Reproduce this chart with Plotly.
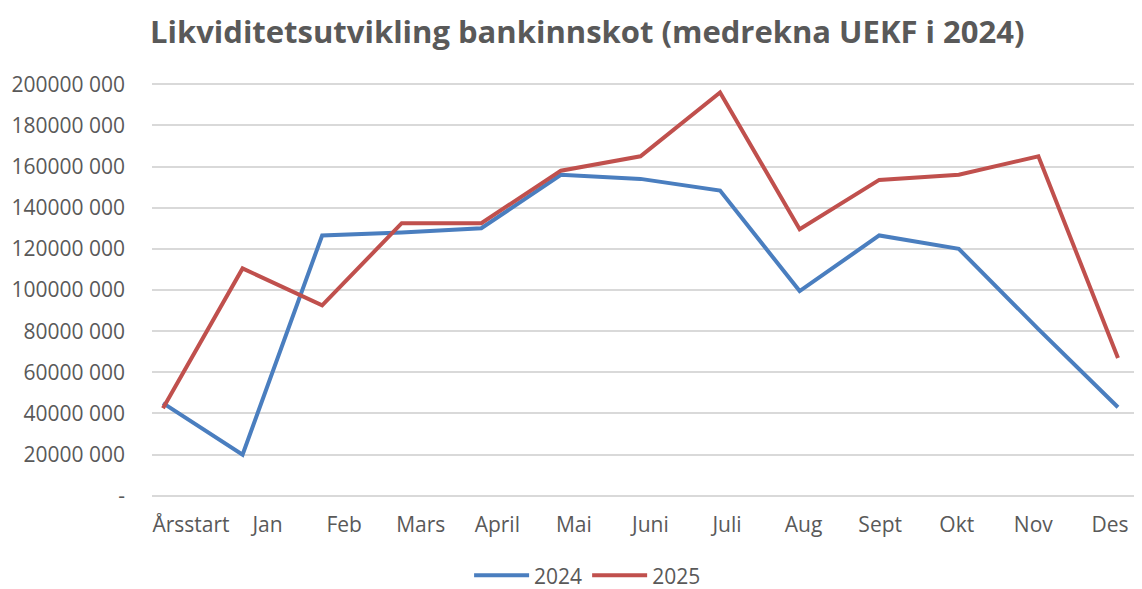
import plotly.graph_objects as go

categories = ["Årsstart", "Jan", "Feb", "Mars", "April", "Mai", "Juni", "Juli",
              "Aug", "Sept", "Okt", "Nov", "Des"]
values_2024 = [45_000_000, 20_000_000, 126_500_000, 128_000_000, 130_000_000, 156_000_000,
               154_000_000, 148_300_000, 99_500_000, 126_500_000, 120_000_000, 81_000_000, 43_000_000]
values_2025 = [42_500_000, 110_500_000, 92_500_000, 132_500_000, 132_500_000, 158_000_000,
               165_000_000, 196_000_000, 129_500_000, 153_500_000, 156_000_000, 165_000_000, 67_000_000]
tick_vals = [0, 20_000_000, 40_000_000, 60_000_000, 80_000_000, 100_000_000,
             120_000_000, 140_000_000, 160_000_000, 180_000_000, 200_000_000]
tick_text = ["-", "20000 000", "40000 000", "60000 000", "80000 000", "100000 000",
             "120000 000", "140000 000", "160000 000", "180000 000", "200000 000"]

font_family = "Open Sans, Liberation Sans, sans-serif"
idx = list(range(len(categories)))

fig = go.Figure()
fig.add_trace(go.Scatter(x=idx, y=values_2024, mode="lines",
                         name="2024", line=dict(color="#4A7EBF", width=4)))
fig.add_trace(go.Scatter(x=idx, y=values_2025, mode="lines",
                         name="2025", line=dict(color="#C0504D", width=4)))
# invisible helper trace carrying the category label axis
fig.add_trace(go.Scatter(x=idx, y=values_2024, mode="lines", xaxis="x2",
                         line=dict(width=0), opacity=0, showlegend=False, hoverinfo="skip"))

fig.update_layout(
    width=1134, height=581,
    paper_bgcolor="white", plot_bgcolor="white",
    margin=dict(l=144, r=0, t=75, b=92, autoexpand=False),
    title=dict(text="<b>Likviditetsutvikling bankinnskot (medrekna UEKF i 2024)</b>",
               x=0.1252, xanchor="left", y=0.9587, yanchor="middle", xref="container", yref="container",
               font=dict(family=font_family, size=31, color="#595959"), automargin=False),
    font=dict(family=font_family, size=21, color="#595959"),
    showlegend=True,
    legend=dict(orientation="h", x=0.440, xanchor="center", y=-0.19, yanchor="middle",
                itemwidth=55, font=dict(size=21, color="#595959")),
    xaxis=dict(range=[-0.138, 12.302], showgrid=False, zeroline=False, showline=False,
               showticklabels=False, ticks="", automargin=False),
    xaxis2=dict(overlaying="x", anchor="y", side="bottom",
                tickmode="array", tickvals=idx, ticktext=categories,
                range=[-0.509, 12.419], showgrid=False, zeroline=False, showline=False,
                ticks="", automargin=False, ticklabelstandoff=13,
                tickfont=dict(size=21, color="#595959")),
    yaxis=dict(tickmode="array", tickvals=tick_vals, ticktext=tick_text,
               range=[-600_000, 200_600_000], showgrid=True, gridcolor="#D9D9D9", gridwidth=1.5,
               zeroline=False, showline=False, ticks="", ticklabelstandoff=26, automargin=False,
               tickfont=dict(size=21, color="#595959")),
)

fig.write_html("out.html")
